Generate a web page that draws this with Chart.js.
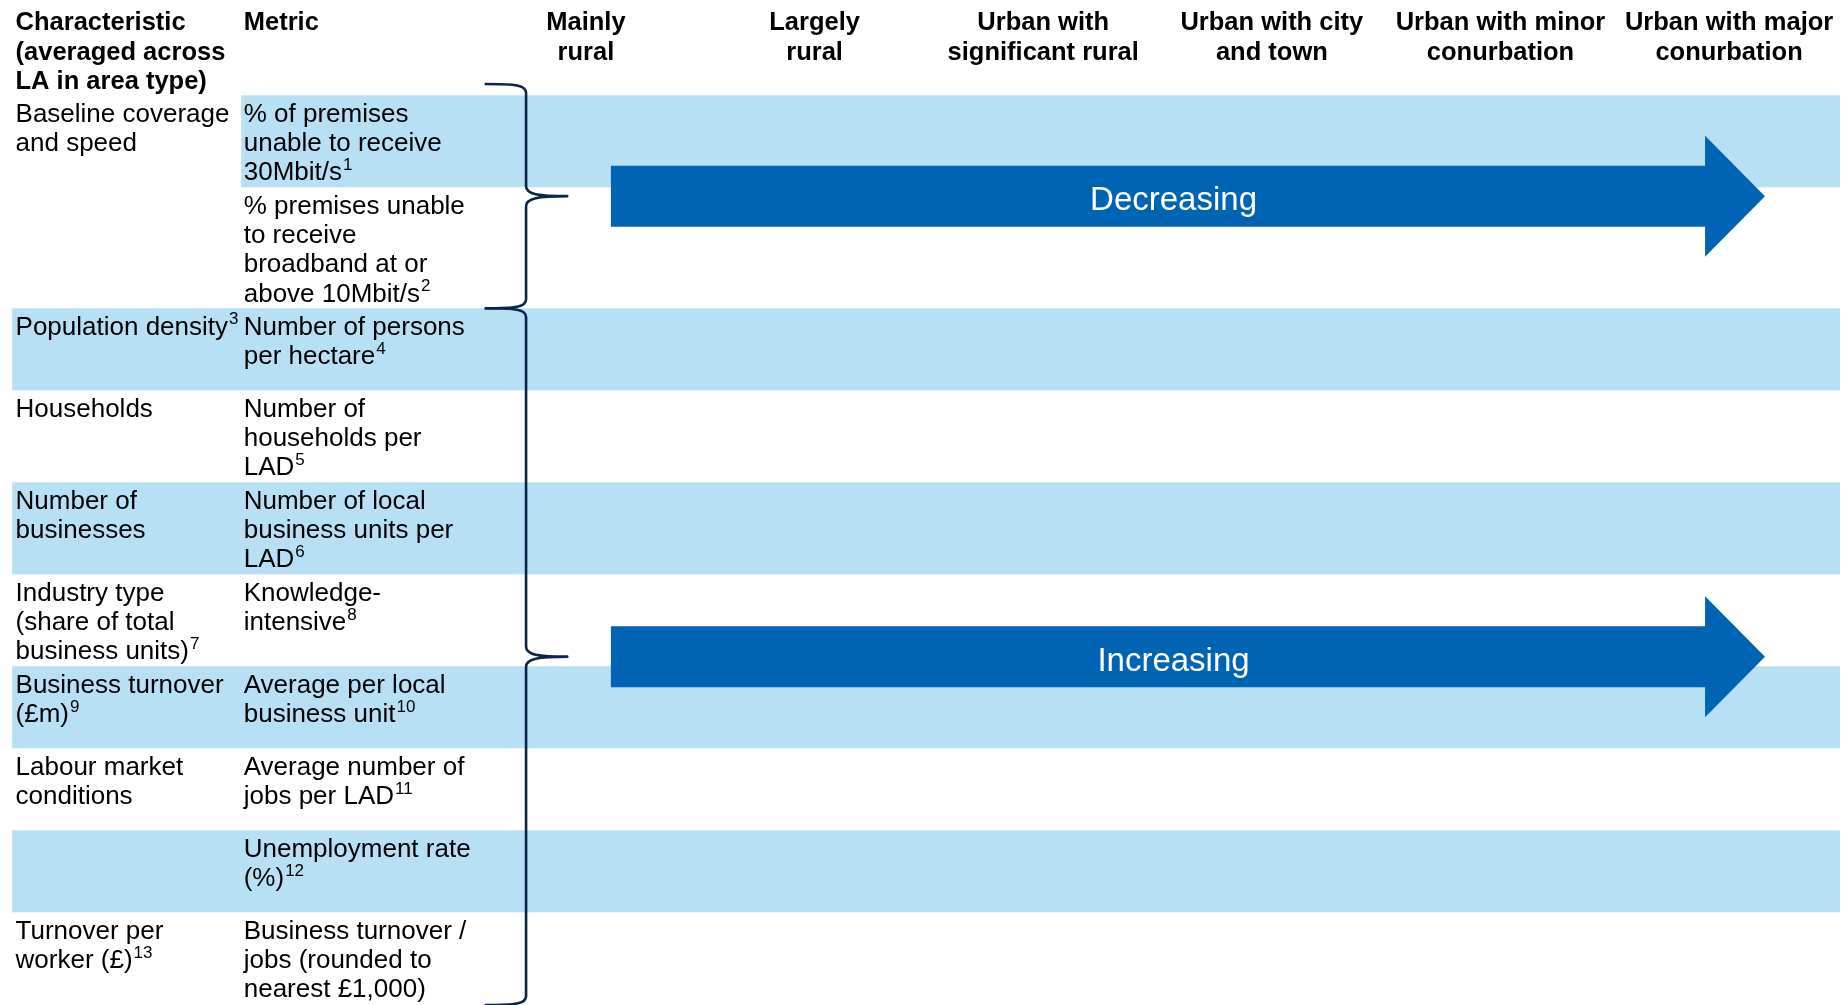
<!DOCTYPE html>
<html><head><meta charset="utf-8">
<script src="https://cdn.jsdelivr.net/npm/chart.js@4.4.0/dist/chart.umd.min.js"></script>
<style>html,body{margin:0;padding:0;background:#fff;overflow:hidden}canvas{display:block}</style>
</head><body>
<canvas id="c" width="1845" height="1005"></canvas>
<script>
// ---------- DATA ----------
const areaTypes = [
  ["Mainly", "rural"],
  ["Largely", "rural"],
  ["Urban with", "significant rural"],
  ["Urban with city", "and town"],
  ["Urban with minor", "conurbation"],
  ["Urban with major", "conurbation"]
];
const characteristicHeader = ["Characteristic", "(averaged across", "LA in area type)"];
const metricHeader = ["Metric"];
// null = merged with the cell above
const characteristics = [
  ["Baseline coverage", "and speed"],
  null,
  ["Population density"],
  ["Households"],
  ["Number of", "businesses"],
  ["Industry type", "(share of total", "business units)"],
  ["Business turnover", "(£m)"],
  ["Labour market", "conditions"],
  [],
  ["Turnover per", "worker (£)"]
];
const characteristicNotes = ["", "", "3", "", "", "7", "9", "", "", "13"];
const metrics = [
  ["% of premises", "unable to receive", "30Mbit/s"],
  ["% premises unable", "to receive", "broadband at or", "above 10Mbit/s"],
  ["Number of persons", "per hectare"],
  ["Number of", "households per", "LAD"],
  ["Number of local", "business units per", "LAD"],
  ["Knowledge-", "intensive"],
  ["Average per local", "business unit"],
  ["Average number of", "jobs per LAD"],
  ["Unemployment rate", "(%)"],
  ["Business turnover /", "jobs (rounded to", "nearest £1,000)"]
];
const metricNotes = ["1", "2", "4", "5", "6", "8", "10", "11", "12", ""];
const shadedRows = [true, false, true, false, true, false, true, false, true, false];
const trendLabels = ["Decreasing", "Increasing"];
const trendFirstRow = [0, 2];
const trendLastRow = [1, 9];
const trendFromArea = [0, 0];
const trendToArea = [5, 5];

// ---------- LAYOUT / STYLE ----------
const L = {
  xMin: -2.563, xMax: 5.507,
  charX: -2.495, charBandX: -2.51, metricX: -1.497, metricBandX: -1.508, bandRight: 5.485,
  braceLineX: -0.262, braceTipX: -0.082, braceHookX: -0.443,
  arrowStartOff: 0.109, arrowHeadOff: -0.105, arrowTipOff: 0.157, arrowLabelX: 2.57,
  tableTop: 95.3,
  rowHeights: [92, 121, 82, 92, 92, 92, 82, 82, 82, 92],
  headerLineY: [23.3, 52.7, 82.1],
  firstLineOff: 19.2, lineGap: 29.4,
  braceTopY: 84, braceBottomY: 1005,
  arrowBody: 61, arrowHead: 121
};
const COLORS = { band: '#B8E0F4', arrow: '#0064B4', brace: '#0B2447', text: '#000000' };
const FONT = '"Liberation Sans", Arial, sans-serif';

const rowTops = [];
{ let t = L.tableTop; for (const h of L.rowHeights) { rowTops.push(t); t += h; } rowTops.push(t); }

function drawLines(ctx, X, Y, xv, topV, lines, note) {
  ctx.fillStyle = COLORS.text;
  ctx.textAlign = 'left';
  ctx.textBaseline = 'middle';
  lines.forEach((s, i) => {
    ctx.font = '26px ' + FONT;
    const py = Y(topV + L.firstLineOff + i * L.lineGap);
    ctx.fillText(s, X(xv), py);
    if (note && i === lines.length - 1) {
      const w = ctx.measureText(s).width;
      ctx.font = '17px ' + FONT;
      ctx.fillText(note, X(xv) + w + 1, py - 8);
    }
  });
}

const tablePlugin = {
  id: 'tablePlugin',
  beforeDatasetsDraw(chart) {
    const { ctx, scales: { x, y } } = chart;
    const X = v => x.getPixelForValue(v), Y = v => y.getPixelForValue(v);
    ctx.save();
    ctx.fillStyle = COLORS.band;
    for (let r = 0; r < shadedRows.length; r++) {
      if (!shadedRows[r]) continue;
      // merged characteristic cell spanning unshaded rows stays white
      const merged = characteristics[r] !== null && characteristics[r + 1] === null;
      const left = merged ? L.metricBandX : L.charBandX;
      ctx.fillRect(X(left), Y(rowTops[r]), X(L.bandRight) - X(left), Y(rowTops[r + 1]) - Y(rowTops[r]));
    }
    ctx.restore();
  },
  afterDatasetsDraw(chart) {
    const { ctx, scales: { x, y } } = chart;
    const X = v => x.getPixelForValue(v), Y = v => y.getPixelForValue(v);
    ctx.save();
    // headers
    ctx.fillStyle = COLORS.text;
    ctx.font = 'bold 25.5px ' + FONT;
    ctx.textBaseline = 'middle';
    ctx.textAlign = 'left';
    characteristicHeader.forEach((s, i) => ctx.fillText(s, X(L.charX), Y(L.headerLineY[i])));
    metricHeader.forEach((s, i) => ctx.fillText(s, X(L.metricX), Y(L.headerLineY[i])));
    ctx.textAlign = 'center';
    areaTypes.forEach((lines, c) => lines.forEach((s, i) => ctx.fillText(s, X(c), Y(L.headerLineY[i]))));
    // body
    for (let r = 0; r < metrics.length; r++) {
      if (characteristics[r]) drawLines(ctx, X, Y, L.charX, rowTops[r], characteristics[r], characteristicNotes[r]);
      drawLines(ctx, X, Y, L.metricX, rowTops[r], metrics[r], metricNotes[r]);
    }
    // braces + arrows
    trendLabels.forEach((label, t) => {
      const top = t === 0 ? L.braceTopY : rowTops[trendFirstRow[t]];
      const bot = trendLastRow[t] === metrics.length - 1 ? L.braceBottomY : rowTops[trendLastRow[t] + 1];
      const mid = (top + bot) / 2;
      const xl = X(L.braceLineX), xt = X(L.braceTipX), xh = X(L.braceHookX);
      const yt = Y(top), yb = Y(bot), ym = Y(mid);
      ctx.strokeStyle = COLORS.brace;
      ctx.lineWidth = 2.6;
      ctx.lineJoin = 'round';
      ctx.beginPath();
      ctx.moveTo(xh, yt);
      ctx.bezierCurveTo(xl - 10, yt, xl, yt + 1, xl, yt + 9);
      ctx.lineTo(xl, ym - 10);
      ctx.bezierCurveTo(xl, ym - 2, xl + 12, ym, xt, ym);
      ctx.bezierCurveTo(xl + 12, ym, xl, ym + 2, xl, ym + 10);
      ctx.lineTo(xl, yb - 9);
      ctx.bezierCurveTo(xl, yb - 1, xl - 10, yb, xh, yb);
      ctx.stroke();
      // arrow
      const x0 = X(trendFromArea[t] + L.arrowStartOff);
      const xhd = X(trendToArea[t] + L.arrowHeadOff);
      const xtp = X(trendToArea[t] + L.arrowTipOff);
      const bh = L.arrowBody / 2, hh = L.arrowHead / 2;
      ctx.fillStyle = COLORS.arrow;
      ctx.beginPath();
      ctx.moveTo(x0, ym - bh);
      ctx.lineTo(xhd, ym - bh);
      ctx.lineTo(xhd, ym - hh);
      ctx.lineTo(xtp, ym);
      ctx.lineTo(xhd, ym + hh);
      ctx.lineTo(xhd, ym + bh);
      ctx.lineTo(x0, ym + bh);
      ctx.closePath();
      ctx.fill();
      ctx.fillStyle = '#FFFFFF';
      ctx.font = '33px ' + FONT;
      ctx.textAlign = 'center';
      ctx.textBaseline = 'alphabetic';
      ctx.fillText(label, X(L.arrowLabelX), ym + 14);
    });
    ctx.restore();
  }
};

new Chart(document.getElementById('c'), {
  type: 'scatter',
  data: { datasets: [{ data: [], pointRadius: 0 }] },
  options: {
    responsive: false,
    animation: false,
    devicePixelRatio: 1,
    layout: { padding: 0 },
    plugins: { legend: { display: false }, tooltip: { enabled: false } },
    scales: {
      x: { type: 'linear', display: false, min: L.xMin, max: L.xMax },
      y: { type: 'linear', display: false, min: 0, max: 1005, reverse: true }
    }
  },
  plugins: [tablePlugin]
});
</script>
</body></html>
